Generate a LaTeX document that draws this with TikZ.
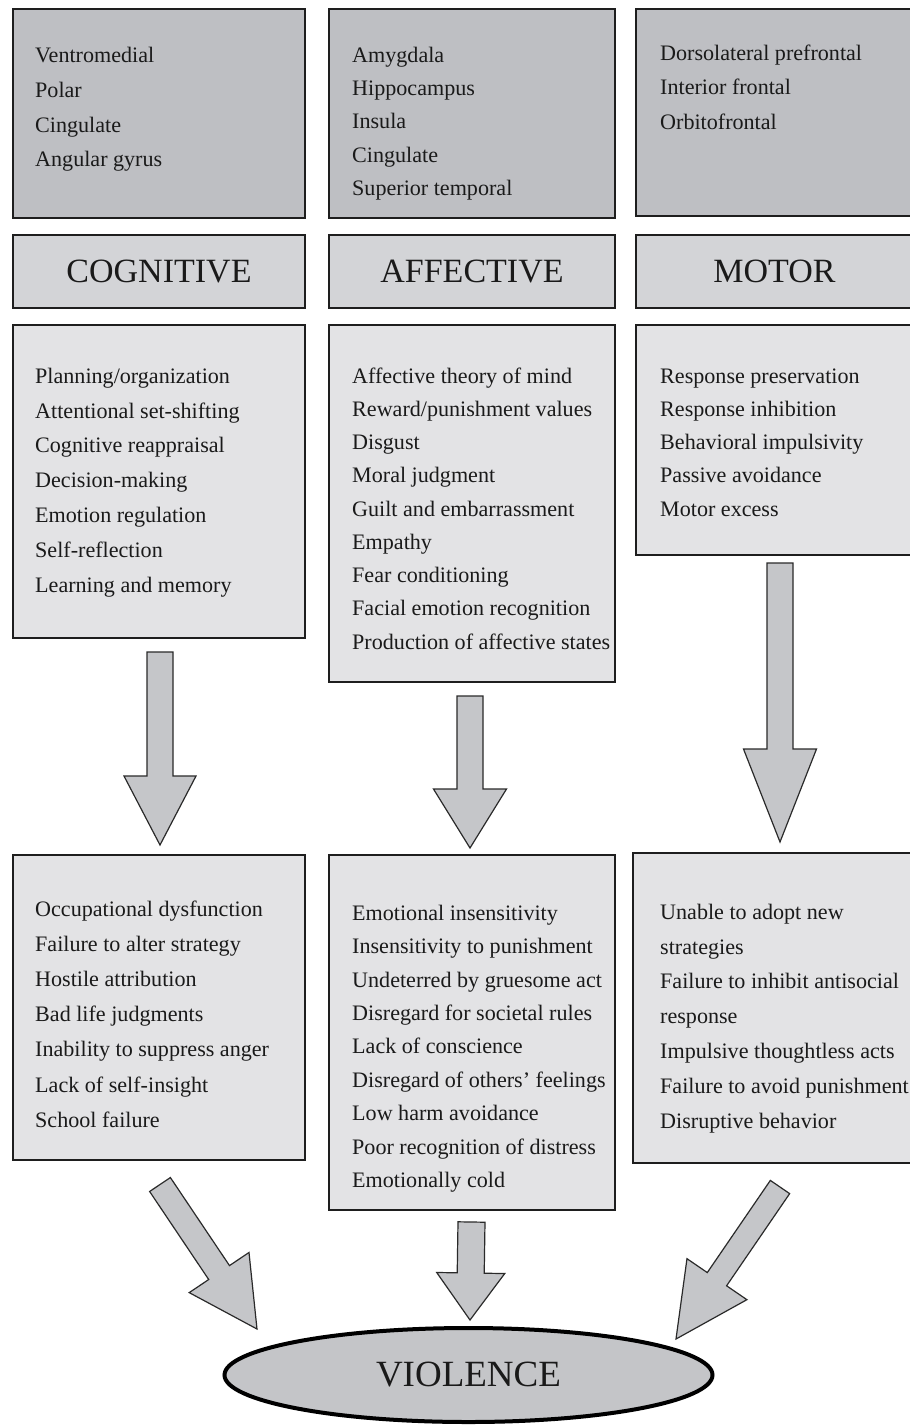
\documentclass[tikz,border=0pt]{standalone}
\usepackage{fontspec}
\setmainfont{Liberation Serif}
\usetikzlibrary{calc,shapes.geometric}
\definecolor{boxline}{HTML}{1E1E1E}
\definecolor{regfill}{HTML}{BEBFC3}
\definecolor{headfill}{HTML}{D3D4D7}
\definecolor{listfill}{HTML}{E3E3E5}
\definecolor{arrfill}{HTML}{C5C6C9}
\definecolor{arrline}{HTML}{2A2A2A}
\definecolor{ellfill}{HTML}{C4C5C8}
\definecolor{inktext}{HTML}{1A1A1A}
\tikzset{
  panel/.style={draw=boxline, line width=2.2pt, anchor=north west, inner sep=0pt, outer sep=0pt},
  regionbox/.style={panel, fill=regfill},
  headbox/.style={panel, fill=headfill, text=inktext, font=\fontsize{34}{40}\selectfont},
  listbox/.style={panel, fill=listfill},
  listtext/.style={anchor=north west, inner sep=0pt, align=left, text=inktext},
  blockarr/.style={draw=arrline, line width=1.2pt, fill=arrfill, line join=miter},
}
\newcommand\lst[1]{\fontsize{22.1}{#1}\selectfont}
\newcommand\topstrut{\rule{0pt}{16pt}}
% #1 start, #2 tip, #3 half shaft width, #4 half head width, #5 head length
\newcommand\blockarrow[5]{%
  \coordinate (bJ) at ($(#2)!#5!(#1)$);
  \draw[blockarr] ($(#1)!#3!90:(#2)$) -- ($(bJ)!#3!90:(#2)$) -- ($(bJ)!#4!90:(#2)$)
    -- (#2) -- ($(bJ)!#4!-90:(#2)$) -- ($(bJ)!#3!-90:(#2)$) -- ($(#1)!#3!-90:(#2)$) -- cycle;
}
\begin{document}
\begin{tikzpicture}[x=1pt,y=-1pt]
\useasboundingbox (0,0) rectangle (910,1425);
\clip (0,0) rectangle (910,1425);

% brain regions
\node[regionbox, minimum width=292pt, minimum height=209pt] (regC) at (13,9) {};
\node[regionbox, minimum width=286pt, minimum height=209pt] (regA) at (329,9) {};
\node[regionbox, minimum width=277pt, minimum height=207pt] (regM) at (636,9) {};
\node[listtext, font=\lst{34.7}] (regCt) at (35,46.5) {\topstrut Ventromedial\\Polar\\Cingulate\\Angular gyrus};
\node[listtext, font=\lst{33.3}] (regAt) at (352,46) {\topstrut Amygdala\\Hippocampus\\Insula\\Cingulate\\Superior temporal};
\node[listtext, font=\lst{34.5}] (regMt) at (660,44) {\topstrut Dorsolateral prefrontal\\Interior frontal\\Orbitofrontal};

% headers
\node[headbox, minimum width=292pt, minimum height=73pt] (cogH) at (13,235) {COGNITIVE};
\node[headbox, minimum width=286pt, minimum height=73pt] (affH) at (329,235) {AFFECTIVE};
\node[headbox, minimum width=277pt, minimum height=73pt] (motH) at (636,235) {MOTOR};

% functions
\node[listbox, minimum width=292pt, minimum height=313pt] (funC) at (13,325) {};
\node[listbox, minimum width=286pt, minimum height=357pt] (funA) at (329,325) {};
\node[listbox, minimum width=277pt, minimum height=230pt] (funM) at (636,325) {};
\node[listtext, font=\lst{34.8}] (funCt) at (35,367) {\topstrut Planning/organization\\Attentional set-shifting\\Cognitive reappraisal\\Decision-making\\Emotion regulation\\Self-reflection\\Learning and memory};
\node[listtext, font=\lst{33.25}] (funAt) at (352,367) {\topstrut Affective theory of mind\\Reward/punishment values\\Disgust\\Moral judgment\\Guilt and embarrassment\\Empathy\\Fear conditioning\\Facial emotion recognition\\Production of affective states};
\node[listtext, font=\lst{33.25}] (funMt) at (660,367) {\topstrut Response preservation\\Response inhibition\\Behavioral impulsivity\\Passive avoidance\\Motor excess};

% outcomes
\node[listbox, minimum width=292pt, minimum height=305pt] (outC) at (13,855) {};
\node[listbox, minimum width=286pt, minimum height=355pt] (outA) at (329,855) {};
\node[listbox, minimum width=280pt, minimum height=310pt] (outM) at (633,853) {};
\node[listtext, font=\lst{35.17}] (outCt) at (35,900) {\topstrut Occupational dysfunction\\Failure to alter strategy\\Hostile attribution\\Bad life judgments\\Inability to suppress anger\\Lack of self-insight\\School failure};
\node[listtext, font=\lst{33.4}] (outAt) at (352,904) {\topstrut Emotional insensitivity\\Insensitivity to punishment\\Undeterred by gruesome act\\Disregard for societal rules\\Lack of conscience\\Disregard of others' feelings\\Low harm avoidance\\Poor recognition of distress\\Emotionally cold};
\node[listtext, font=\lst{34.8}] (outMt) at (660,903) {\topstrut Unable to adopt new\\strategies\\Failure to inhibit antisocial\\response\\Impulsive thoughtless acts\\Failure to avoid punishment\\Disruptive behavior};

% violence
\node[ellipse, draw=black, line width=4pt, fill=ellfill, minimum width=488pt, minimum height=94pt, inner sep=0pt, text=inktext, font=\fontsize{37}{44}\selectfont] (viol) at (468.5,1375) {VIOLENCE};

% arrows
\coordinate (a1s) at ($(funC.south)+(1,14)$);
\coordinate (a1e) at ($(outC.north)+(1,-10)$);
\blockarrow{a1s}{a1e}{13pt}{36pt}{69pt}
\coordinate (a2s) at ($(funA.south)+(-2,14)$);
\coordinate (a2e) at ($(outA.north)+(-2,-7)$);
\blockarrow{a2s}{a2e}{13pt}{36.5pt}{59pt}
\coordinate (a3s) at ($(funM.south)+(5.5,8)$);
\coordinate (a3e) at ($(outM.north)+(7,-11)$);
\blockarrow{a3s}{a3e}{13pt}{36.5pt}{93pt}
\coordinate (b1s) at ($(outC.south)+(1,24.5)$);
\coordinate (b1e) at ($(viol.center)+(-211.5,-46)$);
\blockarrow{b1s}{b1e}{12.5pt}{36pt}{68pt}
\coordinate (b2s) at ($(outA.south)+(-0.5,12)$);
\coordinate (b2e) at ($(viol.center)+(1.5,-55)$);
\blockarrow{b2s}{b2e}{13.5pt}{34pt}{47pt}
\coordinate (b3s) at ($(outM.south)+(7,24)$);
\coordinate (b3e) at ($(viol.center)+(207.5,-36)$);
\blockarrow{b3s}{b3e}{11.7pt}{36.3pt}{72.5pt}
\end{tikzpicture}
\end{document}
